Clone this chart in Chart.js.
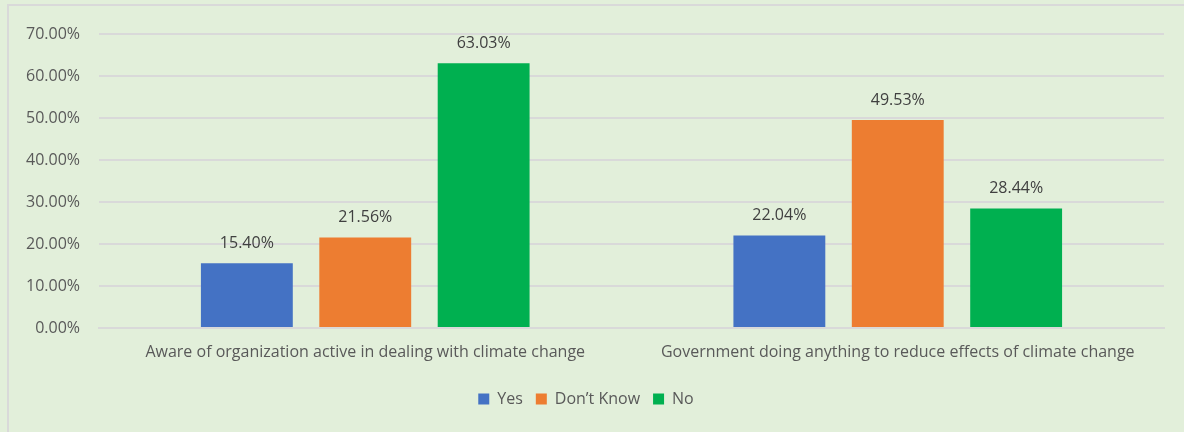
<!DOCTYPE html>
<html>
<head>
<meta charset="utf-8">
<script src="https://cdn.jsdelivr.net/npm/chart.js@4"></script>
<style>
    html, body { margin: 0; padding: 0; background: #e2efda; overflow: hidden; }
    .frame {
        position: absolute; left: 7px; top: 4px; width: 1200px; height: 450px;
        border: 2px solid #d9d9d9; box-sizing: border-box;
    }
    #wrap { position: absolute; left: 0; top: 0; width: 1184px; height: 432px; }
</style>
</head>
<body>
<div class="frame"></div>
<div id="wrap"><canvas id="myChart"></canvas></div>
<script>
const categories = [
    "Aware of organization active in dealing with climate change",
    "Government doing anything to reduce effects of climate change",
];
const seriesNames = ["Yes", "Don\u2019t Know", "No"];
const yesValues = [15.40, 22.04];
const dontKnowValues = [21.56, 49.53];
const noValues = [63.03, 28.44];
const yTicks = [0, 10, 20, 30, 40, 50, 60, 70];

const colors = ["#4472c4", "#ed7d31", "#00b050"];
const fontFamily = "'Open Sans', sans-serif";
const fontSize = 16;

// writes each bar's value just above it
const valueLabels = {
    id: "valueLabels",
    afterDatasetsDraw(chart) {
        const ctx = chart.ctx;
        ctx.save();
        ctx.font = fontSize + "px " + fontFamily;
        ctx.fillStyle = "#404040";
        ctx.textAlign = "center";
        ctx.textBaseline = "bottom";
        chart.data.datasets.forEach((ds, i) => {
            chart.getDatasetMeta(i).data.forEach((bar, j) => {
                ctx.fillText(ds.data[j].toFixed(2) + "%", bar.x, bar.y - 12);
            });
        });
        ctx.restore();
    },
};

const series = [yesValues, dontKnowValues, noValues];
const datasets = seriesNames.map((name, i) => ({
    label: name,
    data: series[i],
    backgroundColor: colors[i],
    categoryPercentage: 0.667,
    barPercentage: 0.776,
}));

new Chart(document.getElementById("myChart"), {
    type: "bar",
    data: { labels: categories, datasets: datasets },
    plugins: [valueLabels],
    options: {
        responsive: true,
        maintainAspectRatio: false,
        animation: false,
        layout: { padding: { left: 8, right: 20, top: 34, bottom: 15 } },
        scales: {
            x: {
                grid: { display: false, drawTicks: false },
                border: { display: true, color: "#d9d9d9", width: 2 },
                ticks: { color: "#595959", font: { family: fontFamily, size: fontSize }, padding: 15 },
                afterFit: (s) => { s.height = 50; },
            },
            y: {
                min: 0,
                max: 70,
                afterBuildTicks: (s) => { s.ticks = yTicks.map((v) => ({ value: v })); },
                grid: { color: "#d9d9d9", lineWidth: 2, drawTicks: false },
                border: { display: false },
                ticks: {
                    color: "#595959",
                    font: { family: fontFamily, size: fontSize },
                    padding: 19,
                    callback: (v) => v.toFixed(2) + "%",
                },
                afterFit: (s) => { s.width = 91; },
            },
        },
        plugins: {
            legend: {
                position: "bottom",
                labels: {
                    color: "#595959",
                    font: { family: fontFamily, size: fontSize },
                    boxWidth: 11,
                    boxHeight: 11,
                    padding: 13,
                },
            },
            tooltip: { enabled: false },
        },
    },
});
</script>
</body>
</html>
